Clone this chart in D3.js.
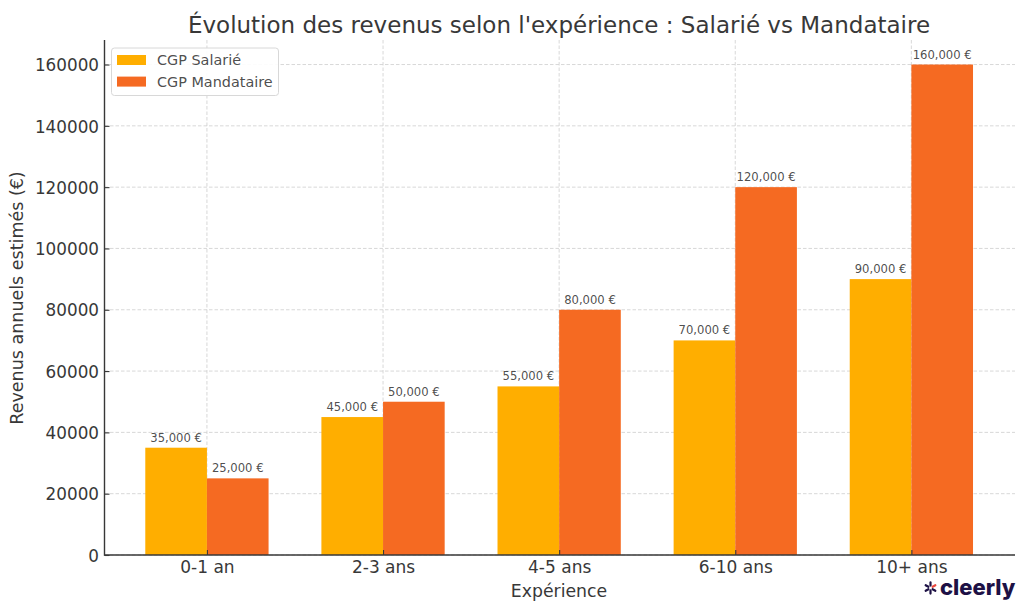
<!DOCTYPE html>
<html><head><meta charset="utf-8">
<script src="https://cdn.jsdelivr.net/npm/d3@7"></script>
<style>html,body{margin:0;padding:0;background:#fff}svg{display:block}text{font-family:"DejaVu Sans",sans-serif}</style>
</head><body><svg id="c" width="1024" height="611"></svg>
<script>
const categories=["0-1 an","2-3 ans","4-5 ans","6-10 ans","10+ ans"];
const salarie=[35000,45000,55000,70000,90000];
const mandataire=[25000,50000,80000,120000,160000];
const yTicks=[0,20000,40000,60000,80000,100000,120000,140000,160000];
const seriesNames=["CGP Salarié","CGP Mandataire"];
const seriesColors=["#ffae00","#f56a22"];
const titleText="Évolution des revenus selon l'expérience : Salarié vs Mandataire";
const xLabel="Expérience", yLabel="Revenus annuels estimés (€)", logoText="cleerly";

const L=104.5,R=1015,T=40,B=555,ink="#383838";
const svg=d3.select("#c");
const x=d3.scalePoint().domain(categories).range([L-.6,R-.6]).padding(0.585);
const y=d3.scaleLinear().domain([0,168000]).range([B,T]);
const bw=x.step()*0.35;
const fmt=v=>d3.format(",")(v)+" €";

const grid=svg.append("g").attr("stroke","#d4d4d4").attr("stroke-width",0.9).attr("stroke-dasharray","3.5 2");
grid.selectAll(".h").data(yTicks).join("line").attr("x1",L).attr("x2",R).attr("y1",d=>y(d)).attr("y2",d=>y(d));
grid.selectAll(".v").data(categories).join("line").attr("x1",d=>x(d)).attr("x2",d=>x(d)).attr("y1",T).attr("y2",B);

[salarie,mandataire].forEach((vals,s)=>{
  const off=s===0?-bw:0;
  const g=svg.append("g");
  g.selectAll("rect").data(vals).join("rect")
    .attr("x",(d,i)=>x(categories[i])+off).attr("width",bw)
    .attr("y",d=>y(d)).attr("height",d=>B-y(d)).attr("fill",seriesColors[s]);
  g.selectAll("text").data(vals).join("text")
    .attr("x",(d,i)=>x(categories[i])+off+bw/2).attr("y",d=>y(d)-6)
    .attr("text-anchor","middle").attr("font-size",11.6).attr("fill",ink).attr("fill-opacity",.9).text(fmt);
});

const ax=svg.append("g").attr("transform",`translate(0,${B})`).call(d3.axisBottom(x).tickSize(5).tickPadding(3));
ax.select(".domain").remove();
ax.selectAll("text").attr("font-size",17).attr("fill",ink).attr("font-family",'"DejaVu Sans"').attr("y",6);
ax.selectAll("line").attr("stroke",ink).attr("y2",-5).attr("stroke-width",1.1);
const ay=svg.append("g").attr("transform",`translate(${L},0)`).call(d3.axisLeft(y).tickValues(yTicks).tickFormat(d3.format("d")).tickSize(5).tickPadding(5));
ay.select(".domain").remove();
ay.selectAll("text").attr("font-size",16.8).attr("fill",ink).attr("font-family",'"DejaVu Sans"').attr("x",-5.5).attr("dy","0.37em");
ay.selectAll("line").attr("stroke",ink).attr("x2",5).attr("stroke-width",1.1);
svg.append("line").attr("x1",L).attr("x2",L).attr("y1",T).attr("y2",B+.7).attr("stroke",ink).attr("stroke-width",1.4);
svg.append("line").attr("x1",L).attr("x2",R).attr("y1",B).attr("y2",B).attr("stroke",ink).attr("stroke-width",1.4);

svg.append("text").attr("x",559).attr("y",32.5).attr("text-anchor","middle").attr("font-size",23).attr("fill",ink).text(titleText);
svg.append("text").attr("x",559).attr("y",597).attr("text-anchor","middle").attr("font-size",17.3).attr("fill",ink).text(xLabel);
svg.append("text").attr("transform","translate(23,298) rotate(-90)").attr("text-anchor","middle").attr("font-size",17.5).attr("fill",ink).text(yLabel);

const lg=svg.append("g");
lg.append("rect").attr("x",111.5).attr("y",48).attr("width",167).attr("height",47.5).attr("rx",3).attr("fill","#fff").attr("fill-opacity",.9).attr("stroke","#d8d8d8");
seriesNames.forEach((n,i)=>{
  lg.append("rect").attr("x",117).attr("y",55+i*21.6).attr("width",29).attr("height",10).attr("fill",seriesColors[i]);
  lg.append("text").attr("x",157).attr("y",65+i*21.6).attr("font-size",14.4).attr("fill",ink).attr("fill-opacity",.9).text(n);
});

const logo=svg.append("g");
const mx=930.5,my=588;
d3.range(6).forEach(i=>{
  const a=i*Math.PI/3+Math.PI/6;
  logo.append("line").attr("x1",mx+Math.cos(a)*2.4).attr("y1",my+Math.sin(a)*2.4)
   .attr("x2",mx+Math.cos(a)*5.6).attr("y2",my+Math.sin(a)*5.6)
   .attr("stroke",i===5?"#e8483f":"#1d1145").attr("stroke-width",2.2).attr("stroke-linecap","round");
});
logo.append("text").attr("x",940).attr("y",595).attr("font-size",22).attr("font-weight",800).attr("fill","#1d1145").style("font-family","Inter").text(logoText);
</script></body></html>
